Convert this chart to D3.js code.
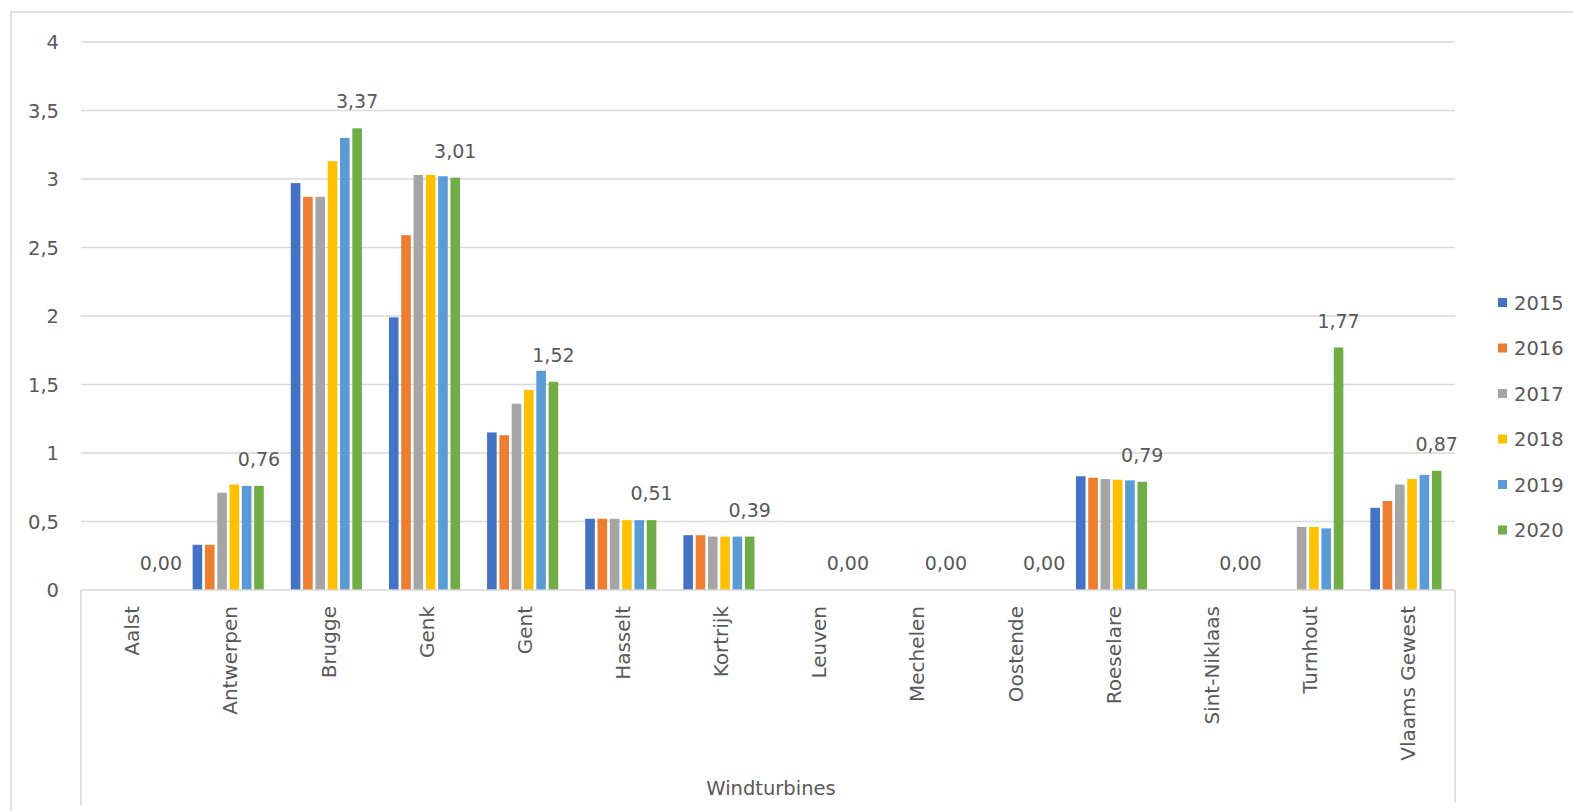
<!DOCTYPE html>
<html>
<head>
<meta charset="utf-8">
<script src="https://cdn.jsdelivr.net/npm/d3@7"></script>
<style>
  html, body { margin: 0; padding: 0; background: #fff; }
  svg { display: block; }
  text { font-family: "DejaVu Sans", sans-serif; fill: #595959; }
</style>
</head>
<body>
<svg id="chart" width="1573" height="811"></svg>
<script>
const categories = ["Aalst", "Antwerpen", "Brugge", "Genk", "Gent", "Hasselt", "Kortrijk",
  "Leuven", "Mechelen", "Oostende", "Roeselare", "Sint-Niklaas", "Turnhout", "Vlaams Gewest"];
const years = ["2015", "2016", "2017", "2018", "2019", "2020"];
const v2015 = [0, 0.33, 2.97, 1.99, 1.15, 0.52, 0.40, 0, 0, 0, 0.83, 0, 0, 0.60];
const v2016 = [0, 0.33, 2.87, 2.59, 1.13, 0.52, 0.40, 0, 0, 0, 0.82, 0, 0, 0.65];
const v2017 = [0, 0.71, 2.87, 3.03, 1.36, 0.52, 0.39, 0, 0, 0, 0.81, 0, 0.46, 0.77];
const v2018 = [0, 0.77, 3.13, 3.03, 1.46, 0.51, 0.39, 0, 0, 0, 0.805, 0, 0.46, 0.81];
const v2019 = [0, 0.76, 3.30, 3.02, 1.60, 0.51, 0.39, 0, 0, 0, 0.80, 0, 0.45, 0.84];
const v2020 = [0, 0.76, 3.37, 3.01, 1.52, 0.51, 0.39, 0, 0, 0, 0.79, 0, 1.77, 0.87];
const yTicks = [0, 0.5, 1, 1.5, 2, 2.5, 3, 3.5, 4];
const colors = ["#4472C4", "#ED7D31", "#A5A5A5", "#FFC000", "#5B9BD5", "#70AD47"];
const axisTitle = "Windturbines";

const seriesValues = [v2015, v2016, v2017, v2018, v2019, v2020];
const series = years.map((yr, i) => ({ year: yr, color: colors[i], values: seriesValues[i] }));

const svg = d3.select("#chart");
const fmt = v => d3.format(".2f")(v).replace(".", ",");
const fmtTick = v => String(v).replace(".", ",");

// outer chart border
svg.append("rect").attr("x", 11).attr("y", 12).attr("width", 1600).attr("height", 820)
  .attr("fill", "none").attr("stroke", "#d9d9d9").attr("stroke-width", 1.5);

const mLeft = 81, mRight = 1455, mTop = 42, mBottom = 590;

const x0 = d3.scaleBand().domain(categories).range([mLeft, mRight]).paddingInner(0.22).paddingOuter(0.11);
const x1 = d3.scaleBand().domain(years).range([0, x0.bandwidth()]).padding(0.22);
const y = d3.scaleLinear().domain([0, 4]).range([mBottom, mTop]);

// gridlines
svg.append("g").selectAll("line").data(yTicks.filter(t => t > 0)).join("line")
  .attr("x1", mLeft).attr("x2", mRight)
  .attr("y1", d => y(d)).attr("y2", d => y(d))
  .attr("stroke", "#d9d9d9").attr("stroke-width", 1.5);

// y tick labels
svg.append("g").selectAll("text").data(yTicks).join("text")
  .attr("x", mLeft - 22).attr("y", d => y(d)).attr("dy", "0.36em")
  .attr("text-anchor", "end").attr("font-size", 19.5)
  .text(fmtTick);

// bars
const groups = svg.append("g").selectAll("g").data(series).join("g").attr("fill", d => d.color);
groups.selectAll("rect").data(s => s.values.map((v, i) => ({ v, cat: categories[i], year: s.year })))
  .join("rect")
  .attr("x", d => x0(d.cat) + x1(d.year))
  .attr("width", x1.bandwidth())
  .attr("y", d => y(d.v))
  .attr("height", d => y(0) - y(d.v));

// category axis line and side lines of multi-level axis
svg.append("line").attr("x1", mLeft).attr("x2", mRight).attr("y1", mBottom).attr("y2", mBottom)
  .attr("stroke", "#d9d9d9").attr("stroke-width", 1.5);
svg.append("line").attr("x1", mLeft).attr("x2", mLeft).attr("y1", mBottom).attr("y2", 805)
  .attr("stroke", "#d9d9d9").attr("stroke-width", 1.5);
svg.append("line").attr("x1", mRight).attr("x2", mRight).attr("y1", mBottom).attr("y2", 803)
  .attr("stroke", "#d9d9d9").attr("stroke-width", 1.5);

// data labels for last series
const last = series[series.length - 1];
svg.append("g").selectAll("text").data(last.values.map((v, i) => ({ v, cat: categories[i] })))
  .join("text")
  .attr("x", d => x0(d.cat) + x1(last.year) + x1.bandwidth() / 2)
  .attr("y", d => y(d.v) - 20)
  .attr("text-anchor", "middle").attr("font-size", 19)
  .text(d => fmt(d.v));

// category labels (rotated)
svg.append("g").selectAll("text").data(categories).join("text")
  .attr("transform", d => `translate(${x0(d) + x0.bandwidth() / 2 + 2},${mBottom + 16}) rotate(-90)`)
  .attr("text-anchor", "end").attr("dy", "0.36em").attr("font-size", 20)
  .text(d => d);

// axis title
svg.append("text").attr("x", (mLeft + mRight) / 2 + 3).attr("y", 788).attr("dy", "0.36em")
  .attr("text-anchor", "middle").attr("font-size", 19.5).text(axisTitle);

// legend
const lg = svg.append("g").selectAll("g").data(series).join("g")
  .attr("transform", (d, i) => `translate(1498,${302.5 + i * 45.5})`);
lg.append("rect").attr("x", 0).attr("y", -4.5).attr("width", 9).attr("height", 9).attr("fill", d => d.color);
lg.append("text").attr("x", 16).attr("dy", "0.36em").attr("font-size", 19.5).text(d => d.year);
</script>
</body>
</html>
